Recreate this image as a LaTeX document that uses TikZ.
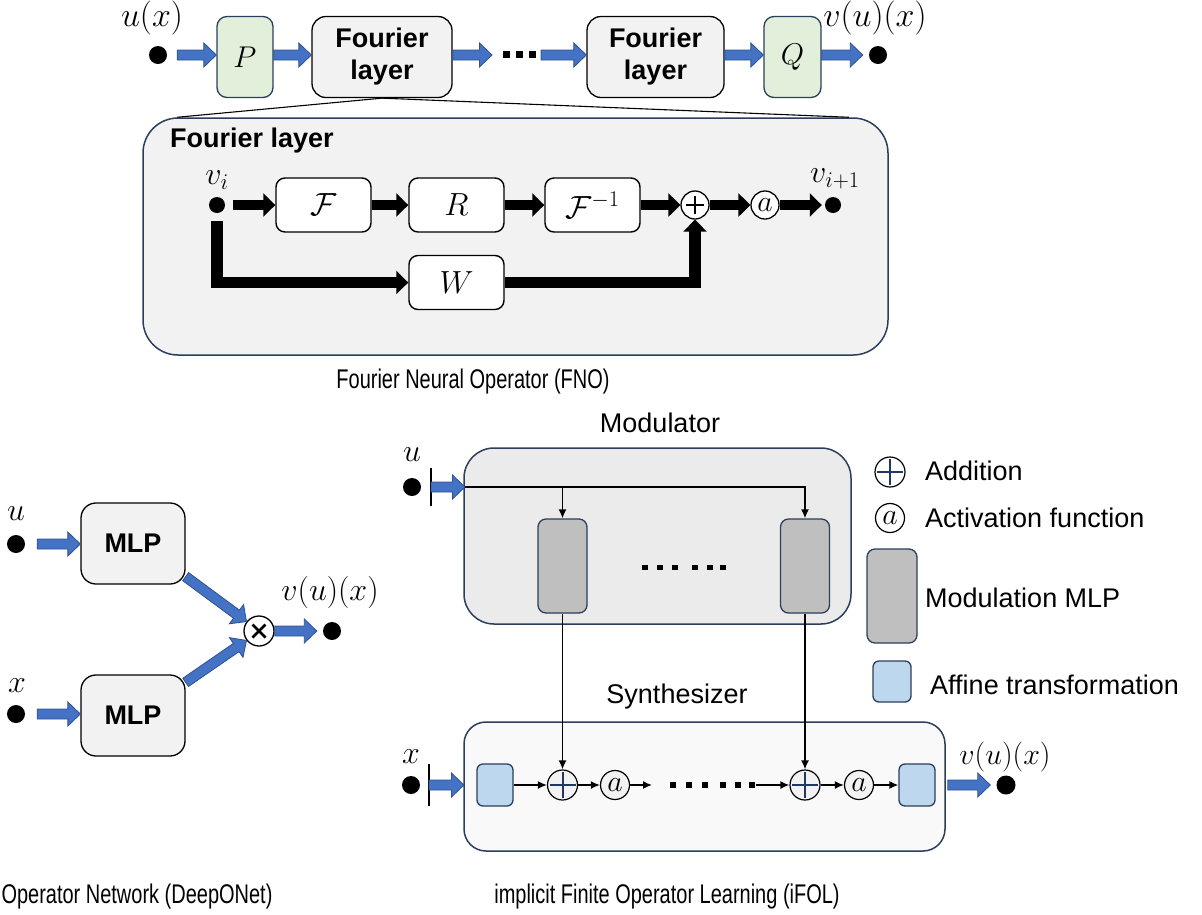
\documentclass[tikz,border=0pt]{standalone}
\usepackage{fix-cm}
\usepackage[no-math]{fontspec}
\setmainfont{Liberation Sans}
\usepackage{graphicx}
\usetikzlibrary{calc,arrows.meta}
\definecolor{navy}{HTML}{2B3F5C}
\definecolor{bblue}{HTML}{4472C4}
\definecolor{bdark}{HTML}{2F528F}
\definecolor{pgreen}{HTML}{E2EFDA}
\definecolor{lgray}{HTML}{F2F2F2}
\definecolor{modgray}{HTML}{EBEBEB}
\definecolor{mgray}{HTML}{BFBFBF}
\definecolor{synfill}{HTML}{F9F9F9}
\definecolor{affine}{HTML}{BDD7EE}
\definecolor{plusblue}{HTML}{1F3864}
\newcommand\fsbig{\fontsize{27}{32}\selectfont}
\newcommand\fsmath{\fontsize{32}{38}\selectfont}
\newcommand\barrow[2]{%
  \coordinate (ba1) at #1; \coordinate (ba2) at #2;
  \coordinate (bab) at ($(ba2)!12.5pt!(ba1)$);
  \draw[draw=bdark, fill=bblue, line width=0.8pt, line join=miter]
    ($(ba1)!5pt!90:(ba2)$) -- ($(bab)!5pt!90:(ba2)$) -- ($(bab)!12pt!90:(ba2)$)
    -- (ba2) -- ($(bab)!12pt!-90:(ba2)$) -- ($(bab)!5pt!-90:(ba2)$)
    -- ($(ba1)!5pt!-90:(ba2)$) -- cycle;}
\newcommand\plusmark[3]{\draw[#3] ($(#1.center)+(-#2,0)$) -- ($(#1.center)+(#2,0)$) ($(#1.center)+(0,-#2)$) -- ($(#1.center)+(0,#2)$);}
\begin{document}
\begin{tikzpicture}[x=1pt,y=-1pt,
  dotn/.style={circle, fill=black, minimum size=18pt, inner sep=0pt},
  mlab/.style={font=\fsmath, inner sep=0pt},
  toplab/.style={font=\fontsize{34}{40}\selectfont, inner sep=0pt},
  pbox/.style={draw=navy, fill=pgreen, line width=1.3pt, rounded corners=10pt, minimum width=56pt, minimum height=81pt, inner sep=0pt, font=\fontsize{30}{34}\selectfont},
  flbox/.style={draw=black, fill=lgray, line width=1.3pt, rounded corners=14pt, minimum width=140pt, minimum height=81pt, inner sep=0pt, align=center, font=\bfseries\fsbig},
  bigbox/.style={draw=navy, fill=lgray, line width=1.5pt, rounded corners=35pt, minimum width=745pt, minimum height=237pt, inner sep=0pt},
  ibox/.style={draw=black, fill=white, line width=1.4pt, rounded corners=9pt, minimum width=95pt, minimum height=54pt, inner sep=0pt, font=\fontsize{32}{36}\selectfont},
  opc/.style={circle, draw=black, fill=white, line width=1.3pt, minimum size=28pt, inner sep=0pt, font=\fontsize{30}{34}\selectfont},
  blk/.style={line width=10.5pt, black, -{Triangle[length=12pt,width=23pt]}},
  zoomline/.style={line width=1.1pt, black},
  mlp/.style={draw=black, fill=lgray, line width=1.3pt, rounded corners=15pt, minimum width=104pt, minimum height=81pt, inner sep=0pt, font=\bfseries\fsbig},
  modbox/.style={draw=navy, fill=modgray, line width=1.5pt, rounded corners=30pt, minimum width=387pt, minimum height=176pt, inner sep=0pt},
  synbox/.style={draw=navy, fill=synfill, line width=1.5pt, rounded corners=22pt, minimum width=481pt, minimum height=129pt, inner sep=0pt},
  gbox/.style={draw=navy, fill=mgray, line width=1.3pt, rounded corners=8pt, minimum width=49pt, minimum height=94pt, inner sep=0pt},
  abox/.style={draw=navy, fill=affine, line width=1.3pt, rounded corners=6pt, minimum width=36pt, minimum height=42pt, inner sep=0pt},
  plc/.style={circle, draw=black, fill=lgray, line width=1.2pt, minimum size=30pt, inner sep=0pt},
  acirc/.style={circle, draw=black, fill=lgray, line width=1.2pt, minimum size=29pt, inner sep=0pt, font=\fontsize{30}{34}\selectfont},
  thinarr/.style={line width=1.5pt, black, -{Latex[length=9pt,width=8pt]}},
  leg/.style={anchor=west, inner sep=0pt, font=\fsbig},
  capt/.style={inner sep=0pt}]
\useasboundingbox (0,0) rectangle (1202,914);

% ---------------- top row ----------------
\node[dotn] (du) at (158,55) {};
\node[toplab] (lu) at (152,18) {$u(x)$};
\node[pbox] (P) at (245,57) {$P$};
\node[flbox] (fl1) at (382,57) {Fourier\\layer};
\node[flbox, minimum width=137pt] (fl2) at (655.5,57) {Fourier\\layer};
\node[pbox, minimum width=57pt] (Q) at (792.5,57) {$Q$};
\node[dotn] (dv) at (878,55) {};
\node[toplab] (lv) at (875,18) {$v(u)(x)$};
\coordinate (d1) at (492,55);
\coordinate (d2) at (541,55);
\foreach \xx in {503,516,529} \fill (\xx,51) rectangle ++(6.5,6.5);
\barrow{($(du.east)+(10,0)$)}{(P.west|-du)}
\barrow{(P.east|-du)}{(fl1.west|-du)}
\barrow{(fl1.east|-du)}{(d1)}
\barrow{(d2)}{(fl2.west|-du)}
\barrow{(fl2.east|-du)}{(Q.west|-du)}
\barrow{(Q.east|-du)}{($(dv.west)+(-6,0)$)}

% ---------------- Fourier layer detail ----------------
\node[bigbox] (flb) at (515.5,236.5) {};
\draw[zoomline] (fl1.south) -- ($(flb.north west)+(35,0)$);
\draw[zoomline] (fl1.south) -- ($(flb.north east)+(-40,0)$);
\node[font=\bfseries\fsbig, anchor=west, inner sep=0pt] (flt) at (170,141) {Fourier layer};
\node[dotn, minimum size=16pt] (vi) at (217,205) {};
\node[mlab] (lvi) at (217,180) {$v_i$};
\node[ibox] (F) at (323.5,205) {$\mathcal{F}$};
\node[ibox] (R) at (456.5,205) {$R$};
\node[ibox] (Fi) at (592.5,205) {$\mathcal{F}^{-1}$};
\node[ibox] (W) at (456.5,282.5) {$W$};
\node[opc] (pl) at (695,205) {};
\plusmark{pl}{9}{line width=2.4pt}
\node[opc] (ac) at (765,205) {$a$};
\node[dotn, minimum size=16pt] (vo) at (833,205) {};
\node[mlab] (lvo) at (835,179) {$v_{i+1}$};
\draw[blk] ($(vi.east)+(8,0)$) -- (F.west);
\draw[blk] (F) -- (R);
\draw[blk] (R) -- (Fi);
\draw[blk] (Fi) -- (pl);
\draw[blk] (pl) -- (ac);
\draw[blk] (ac) -- ($(vo.west)+(-3,0)$);
\draw[blk, line width=11.5pt] ($(vi.south)+(0,8)$) |- (W.west);
\draw[blk, line width=11.5pt] (W.east) -| (pl.south);
\node[capt] (cfno) at (473,382) {\scalebox{0.74}[1]{\fsbig Fourier Neural Operator (FNO)}};

% ---------------- DeepONet ----------------
\node[dotn] (du2) at (16,544) {};
\node[mlab] (lu2) at (16,514) {$u$};
\node[mlp] (m1) at (133,543.5) {MLP};
\node[dotn] (dx2) at (16,714) {};
\node[mlab] (lx2) at (17,686) {$x$};
\node[mlp] (m2) at (133,715.5) {MLP};
\node[opc, minimum size=30pt] (mul) at (259,631) {};
\draw[line width=2.8pt] ($(mul.center)+(-6.5,-6.5)$) -- ($(mul.center)+(6.5,6.5)$) ($(mul.center)+(-6.5,6.5)$) -- ($(mul.center)+(6.5,-6.5)$);
\node[dotn] (dv2) at (332,631) {};
\node[mlab] (lv2) at (330,592) {$v(u)(x)$};
\barrow{($(du2.east)+(12,0)$)}{(m1.west|-du2)}
\barrow{($(dx2.east)+(12,0)$)}{(m2.west|-dx2)}
\barrow{($(m1.south east)+(0,-8)$)}{(mul.143)}
\barrow{($(m2.north east)+(0,8)$)}{(mul.217)}
\barrow{(mul.east)}{($(dv2.west)+(-6,0)$)}
\node[capt] (cdeep) at (137,897) {\scalebox{0.74}[1]{\fsbig Operator Network (DeepONet)}};

% ---------------- iFOL ----------------
\node[inner sep=0pt, font=\fsbig] (tmod) at (660,423) {Modulator};
\node[modbox] (mod) at (657.5,536) {};
\node[dotn] (du3) at (412,487) {};
\node[mlab] (lu3) at (412,455) {$u$};
\coordinate (ub) at (431,487);
\coordinate (ue) at (465,487);
\draw[line width=2pt] ($(ub)+(0,-19)$) -- ($(ub)+(0,19)$);
\barrow{(ub)}{(ue)}
\node[gbox] (g1) at (562.5,566) {};
\node[gbox] (g2) at (805,566) {};
\draw[thinarr] (ue) -| (g2.north);
\draw[thinarr] (g1.north |- ue) -- (g1.north);
\foreach \xx in {642,657,672,692,707,720} \fill (\xx,564.5) rectangle ++(5.5,5.5);

\node[inner sep=0pt, font=\fsbig] (tsyn) at (677,697) {Synthesizer};
\node[synbox] (syn) at (704.5,786.5) {};
\node[dotn] (dx3) at (411,785) {};
\node[mlab] (lx3) at (411,757) {$x$};
\coordinate (xb) at (429,785);
\coordinate (xe) at (464,785);
\draw[line width=2pt] ($(xb)+(0,-21)$) -- ($(xb)+(0,21)$);
\barrow{(xb)}{(xe)}
\node[abox] (a1) at (495,785) {};
\node[plc] (p1) at (562.5,785) {};
\plusmark{p1}{13}{line width=2pt, plusblue}
\node[acirc] (c1) at (615,785) {$a$};
\coordinate (e1) at (652,785);
\coordinate (s2) at (756,785);
\foreach \xx in {670,686,702,720,735,749} \fill (\xx,782) rectangle ++(6,6);
\node[plc] (p2) at (805,785) {};
\plusmark{p2}{13}{line width=2pt, plusblue}
\node[acirc] (c2) at (859,785) {$a$};
\node[abox] (a2) at (917,785) {};
\node[dotn, minimum size=19pt] (dv3) at (1006,785) {};
\node[mlab, font=\fontsize{30}{36}\selectfont] (lv3) at (1005,757) {$v(u)(x)$};
\draw[thinarr] (a1) -- (p1);
\draw[thinarr] (p1) -- (c1);
\draw[thinarr] (c1) -- (e1);
\draw[thinarr] (s2) -- (p2);
\draw[thinarr] (p2) -- (c2);
\draw[thinarr] (c2) -- (a2);
\draw[thinarr] (g1.south) -- (p1.north);
\draw[thinarr] (g2.south) -- (p2.north);
\barrow{($(syn.east|-a2)+(2,0)$)}{($(dv3.west)+(-6,0)$)}
\node[capt] (cifol) at (667,897) {\scalebox{0.74}[1]{\fsbig implicit Finite Operator Learning (iFOL)}};

% ---------------- legend ----------------
\node[plc, fill=white] (lp) at (890,472) {};
\plusmark{lp}{13}{line width=2pt, plusblue}
\node[leg] (tadd) at (925,471) {Addition};
\node[acirc, fill=white] (la) at (890,518) {$a$};
\node[leg] (tact) at (925,518) {Activation function};
\node[gbox, minimum width=50pt] (lg) at (892,596) {};
\node[leg] (tmlp) at (925,598) {Modulation MLP};
\node[abox, minimum width=38pt, minimum height=41pt] (lab) at (892,681.5) {};
\node[leg] (taff) at (930,685) {Affine transformation};
\end{tikzpicture}
\end{document}
